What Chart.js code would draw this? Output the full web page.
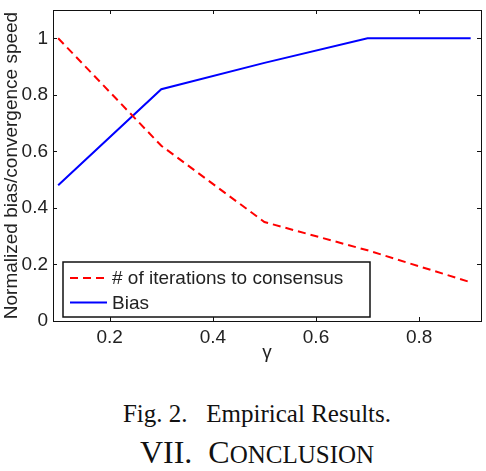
<!DOCTYPE html>
<html>
<head>
<meta charset="utf-8">
<script src="https://cdn.jsdelivr.net/npm/chart.js@4.4.1/dist/chart.umd.min.js"></script>
<style>
body { margin: 0; background: #fff; }
#wrap { position: relative; width: 486px; height: 471px; overflow: hidden; }
#plot { position: absolute; left: 0; top: 0; width: 486px; height: 370px; }
.cap { position: absolute; left: 14px; width: 486px; text-align: center; font-family: "Liberation Serif", serif; color: #111; white-space: pre; }
#fig { top: 401px; font-size: 25px; line-height: 25px; }
#sec { top: 436px; font-size: 32px; line-height: 32px; }
#sec span { font-size: 25px; }
</style>
</head>
<body>
<div id="wrap">
  <div id="plot"><canvas id="chart_gamma"></canvas></div>
  <div class="cap" id="fig">Fig. 2.   Empirical Results.</div>
  <div class="cap" id="sec">VII.  C<span>ONCLUSION</span></div>
</div>
<script>
// DATA
var gammaValues = [0.1, 0.3, 0.5, 0.7, 0.9];
var iterValues = [1.0, 0.62, 0.35, 0.25, 0.137];
var biasValues = [0.48, 0.82, 0.913, 1.0, 1.0];
var xTickValues = [0.2, 0.4, 0.6, 0.8];
var yTickValues = [0, 0.2, 0.4, 0.6, 0.8, 1];

var FONT = '"Liberation Sans", Arial, sans-serif';

function toPoints(xs, ys) {
	return xs.map(function(x, i) { return { x: x, y: ys[i] }; });
}

// BOX AROUND PLOT, INWARD TICKS ON ALL SIDES, LEGEND INSIDE
var matlabBox = {
	id: 'matlabBox',
	afterDatasetsDraw: function(chart) {
		var ctx = chart.ctx;
		var a = chart.chartArea;
		var xs = chart.scales.x, ys = chart.scales.y;
		ctx.save();
		ctx.strokeStyle = '#111';
		ctx.lineWidth = 1;
		ctx.strokeRect(a.left + 0.5, a.top + 0.5, a.right - a.left, a.bottom - a.top);
		ctx.beginPath();
		xTickValues.forEach(function(v) {
			var px = Math.round(xs.getPixelForValue(v)) + 0.5;
			ctx.moveTo(px, a.bottom); ctx.lineTo(px, a.bottom - 4);
			ctx.moveTo(px, a.top); ctx.lineTo(px, a.top + 4);
		});
		yTickValues.forEach(function(v) {
			var py = Math.round(ys.getPixelForValue(v)) + 0.5;
			ctx.moveTo(a.left, py); ctx.lineTo(a.left + 4, py);
			ctx.moveTo(a.right, py); ctx.lineTo(a.right - 4, py);
		});
		ctx.stroke();

		// legend
		var lx = a.left + 10, ly = a.top + 252, lw = 307, lh = 55;
		ctx.fillStyle = '#fff';
		ctx.fillRect(lx, ly, lw, lh);
		ctx.lineWidth = 1.5;
		ctx.strokeStyle = '#111';
		ctx.strokeRect(lx, ly, lw, lh);
		ctx.font = '19px ' + FONT;
		ctx.textBaseline = 'middle';
		ctx.fillStyle = '#222';
		chart.data.datasets.forEach(function(ds, i) {
			var y = ly + 16 + i * 24.5;
			ctx.beginPath();
			ctx.strokeStyle = ds.borderColor;
			ctx.lineWidth = 2;
			ctx.setLineDash(ds.borderDash || []);
			ctx.moveTo(lx + 7, y); ctx.lineTo(lx + 44, y);
			ctx.stroke();
			ctx.setLineDash([]);
			ctx.fillText(ds.label, lx + 49, y + 1);
		});
		ctx.restore();
	}
};

var ctxG = document.getElementById('chart_gamma').getContext('2d');
var gammaChart = new Chart(ctxG, {
	type: 'line',
	data: {
		datasets: [{
			label: '# of iterations to consensus',
			data: toPoints(gammaValues, iterValues),
			borderColor: '#ff0000',
			borderDash: [8, 5],
			borderWidth: 2,
			pointRadius: 0,
			tension: 0
		}, {
			label: 'Bias',
			data: toPoints(gammaValues, biasValues),
			borderColor: '#0000ff',
			borderWidth: 2,
			pointRadius: 0,
			tension: 0
		}]
	},
	options: {
		responsive: true,
		maintainAspectRatio: false,
		animation: false,
		layout: {
			padding: { left: 0, right: 5, top: 10, bottom: 0 }
		},
		plugins: {
			legend: { display: false },
			tooltip: { enabled: false }
		},
		scales: {
			x: {
				type: 'linear',
				min: 0.09,
				max: 0.92,
				afterBuildTicks: function(scale) {
					scale.ticks = xTickValues.map(function(v) { return { value: v }; });
				},
				afterFit: function(scale) {
					scale.height = 49;
					scale.paddingLeft = 0;
					scale.paddingRight = 0;
				},
				grid: { display: false, drawTicks: false },
				border: { display: false },
				ticks: {
					color: '#222',
					padding: 5,
					callback: function(v) { return String(v); },
					font: { family: FONT, size: 19 }
				},
				title: {
					display: true,
					text: 'γ',
					color: '#222',
					padding: { top: 0, bottom: 6 },
					font: { family: FONT, size: 19 }
				}
			},
			y: {
				min: 0,
				max: 1.1,
				afterBuildTicks: function(scale) {
					scale.ticks = yTickValues.map(function(v) { return { value: v }; });
				},
				afterFit: function(scale) {
					scale.width = 53;
					scale.paddingTop = 0;
					scale.paddingBottom = 0;
				},
				grid: { display: false, drawTicks: false },
				border: { display: false },
				ticks: {
					color: '#222',
					padding: 5,
					callback: function(v) { return String(v); },
					font: { family: FONT, size: 19 }
				},
				title: {
					display: true,
					text: 'Normalized bias/convergence speed',
					color: '#222',
					padding: { top: 0, bottom: 0 },
					font: { family: FONT, size: 19 }
				}
			}
		}
	},
	plugins: [matlabBox]
});
</script>
</body>
</html>
